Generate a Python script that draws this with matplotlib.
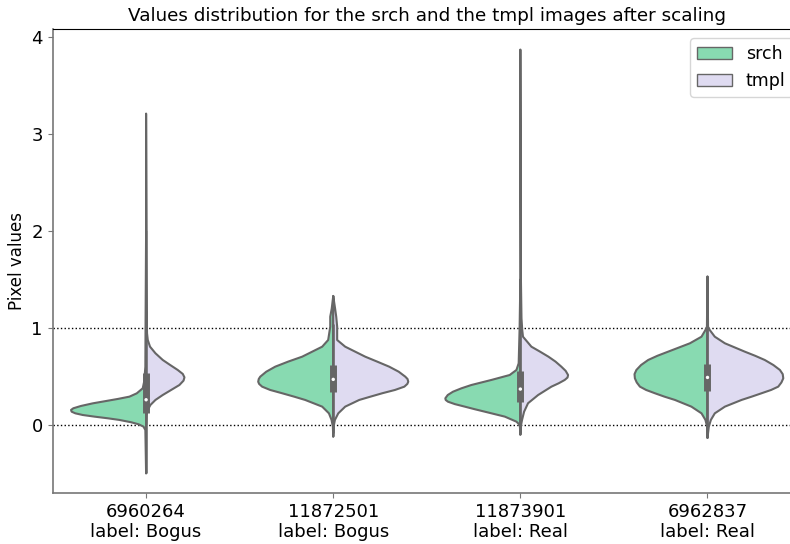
import matplotlib
matplotlib.use("Agg")
import matplotlib.pyplot as plt
from matplotlib.patches import Patch
import numpy as np

# categories / tick labels
ids = ["6960264", "11872501", "11873901", "6962837"]
labels = ["Bogus", "Bogus", "Real", "Real"]
hues = ["srch", "tmpl"]

# violin half profiles: y value -> half width (x units)
srch_y = [
    [2.0, 1.0, 0.6, 0.45, 0.378, 0.326, 0.292, 0.268, 0.247, 0.223, 0.196, 0.172, 0.155, 0.137, 0.120, 0.103, 0.086, 0.069, 0.052, 0.028, 0.007, -0.017, -0.052, -0.5],
    [1.33, 1.2, 1.116, 1.013, 0.876, 0.807, 0.704, 0.653, 0.601, 0.549, 0.498, 0.474, 0.446, 0.423, 0.395, 0.361, 0.327, 0.292, 0.258, 0.189, 0.120, 0.052, -0.018, -0.12],
    [1.5, 1.0, 0.636, 0.567, 0.515, 0.464, 0.412, 0.378, 0.343, 0.309, 0.275, 0.258, 0.240, 0.215, 0.189, 0.163, 0.137, 0.086, 0.034, 0.0, -0.10],
    [1.53, 1.2, 1.013, 0.979, 0.910, 0.842, 0.756, 0.713, 0.670, 0.618, 0.567, 0.524, 0.481, 0.438, 0.395, 0.361, 0.327, 0.292, 0.258, 0.189, 0.120, 0.052, -0.018, -0.134],
]
srch_w = [
    [0.0, 0.003, 0.004, 0.010, 0.018, 0.050, 0.089, 0.152, 0.214, 0.285, 0.348, 0.389, 0.401, 0.398, 0.378, 0.339, 0.276, 0.205, 0.143, 0.080, 0.040, 0.014, 0.004, 0.0],
    [0.0, 0.008, 0.016, 0.016, 0.027, 0.059, 0.166, 0.241, 0.310, 0.358, 0.390, 0.398, 0.401, 0.396, 0.380, 0.337, 0.273, 0.209, 0.150, 0.059, 0.023, 0.009, 0.002, 0.0],
    [0.0, 0.004, 0.009, 0.021, 0.057, 0.155, 0.262, 0.315, 0.360, 0.388, 0.401, 0.399, 0.387, 0.350, 0.297, 0.245, 0.190, 0.083, 0.021, 0.003, 0.0],
    [0.0, 0.002, 0.003, 0.011, 0.032, 0.094, 0.210, 0.268, 0.317, 0.355, 0.380, 0.390, 0.388, 0.378, 0.361, 0.328, 0.281, 0.230, 0.174, 0.086, 0.032, 0.011, 0.002, 0.0],
]
tmpl_y = [
    [3.21, 1.5, 1.05, 0.945, 0.876, 0.807, 0.739, 0.670, 0.619, 0.567, 0.526, 0.491, 0.457, 0.412, 0.361, 0.309, 0.258, 0.206, 0.155, 0.103, 0.0],
    [1.33, 1.2, 1.116, 1.013, 0.876, 0.807, 0.704, 0.653, 0.601, 0.549, 0.498, 0.474, 0.446, 0.423, 0.395, 0.361, 0.327, 0.292, 0.258, 0.189, 0.120, 0.052, -0.018, -0.12],
    [3.87, 1.5, 1.1, 0.979, 0.910, 0.807, 0.756, 0.704, 0.653, 0.601, 0.558, 0.515, 0.489, 0.464, 0.430, 0.395, 0.309, 0.224, 0.137, 0.052, -0.018, -0.10],
    [1.53, 1.2, 1.013, 0.979, 0.910, 0.842, 0.756, 0.713, 0.670, 0.618, 0.567, 0.524, 0.481, 0.438, 0.395, 0.361, 0.327, 0.292, 0.258, 0.189, 0.120, 0.052, -0.018, -0.134],
]
tmpl_w = [
    [0.0, 0.003, 0.004, 0.005, 0.009, 0.021, 0.050, 0.089, 0.128, 0.169, 0.196, 0.205, 0.200, 0.178, 0.134, 0.089, 0.050, 0.023, 0.009, 0.002, 0.0],
    [0.0, 0.010, 0.016, 0.021, 0.021, 0.064, 0.171, 0.235, 0.299, 0.350, 0.385, 0.397, 0.401, 0.396, 0.380, 0.330, 0.262, 0.199, 0.139, 0.064, 0.027, 0.009, 0.002, 0.0],
    [0.0, 0.003, 0.006, 0.010, 0.014, 0.059, 0.105, 0.150, 0.188, 0.219, 0.242, 0.255, 0.252, 0.237, 0.205, 0.166, 0.095, 0.041, 0.020, 0.009, 0.002, 0.0],
    [0.0, 0.002, 0.003, 0.012, 0.039, 0.093, 0.199, 0.255, 0.306, 0.352, 0.387, 0.402, 0.405, 0.395, 0.378, 0.340, 0.289, 0.236, 0.182, 0.093, 0.039, 0.018, 0.007, 0.0],
]

# inner box stats (combined)
q1 = [0.12, 0.34, 0.24, 0.35]
med = [0.26, 0.47, 0.37, 0.49]
q3 = [0.54, 0.62, 0.56, 0.63]
wlo = [-0.50, -0.08, -0.08, -0.07]
whi = [1.17, 1.04, 1.04, 1.05]

green = "#88dab1"
lav = "#dfdbf1"
gray = "#666666"

fig = plt.figure(figsize=(7.9, 5.44), dpi=100)
ax = fig.add_axes([0.0665, 0.0938, 0.9475, 0.852])

for i in range(len(ids)):
    ys = np.array(srch_y[i]); ws = np.array(srch_w[i])
    xs = np.concatenate([i - ws, [i, i]])
    yy = np.concatenate([ys, [ys[-1], ys[0]]])
    ax.fill(xs, yy, facecolor=green, edgecolor=gray, lw=1.5, zorder=2, joinstyle="round")
    yt = np.array(tmpl_y[i]); wt = np.array(tmpl_w[i])
    xs = np.concatenate([i + wt, [i, i]])
    yy = np.concatenate([yt, [yt[-1], yt[0]]])
    ax.fill(xs, yy, facecolor=lav, edgecolor=gray, lw=1.5, zorder=2, joinstyle="round")
    # inner box
    ax.plot([i, i], [wlo[i], whi[i]], color=gray, lw=1.8, zorder=3, solid_capstyle="butt")
    ax.plot([i, i], [q1[i], q3[i]], color=gray, lw=5, zorder=3, solid_capstyle="butt")
    ax.scatter([i], [med[i]], s=6, color="white", zorder=4, edgecolors="none")

ax.axhline(0, color="k", ls=":", lw=1, zorder=1)
ax.axhline(1, color="k", ls=":", lw=1, zorder=1)

ax.set_xlim(-0.5, 3.5)
ax.set_ylim(-0.701, 4.077)
ax.set_xticks(range(len(ids)))
ax.set_xticklabels([f"{a}\nlabel: {b}" for a, b in zip(ids, labels)], fontsize=13)
ax.set_yticks([0, 1, 2, 3, 4])
ax.tick_params(axis="y", labelsize=13)
ax.set_ylabel("Pixel values", fontsize=12)
ax.set_title("Values distribution for the srch and the tmpl images after scaling", fontsize=13.2)

for s in ["left", "bottom"]:
    ax.spines[s].set_color("#777777")
    ax.spines[s].set_linewidth(1.2)
ax.spines["right"].set_visible(False)
ax.tick_params(color="#777777")

handles = [Patch(facecolor=green, edgecolor=gray, lw=1, label=hues[0]),
           Patch(facecolor=lav, edgecolor=gray, lw=1, label=hues[1])]
ax.legend(handles=handles, loc="upper right", fontsize=12.5, framealpha=0.8, fancybox=True)

fig.savefig("out.png", dpi=100)
